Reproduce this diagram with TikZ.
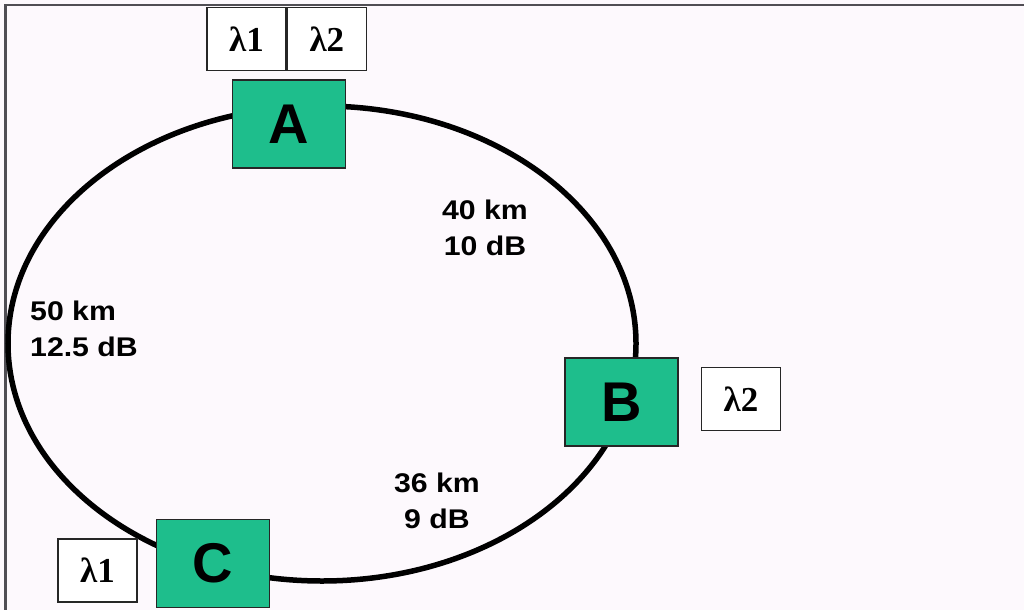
\documentclass[tikz,border=0pt]{standalone}
\usepackage{fontspec}
\setmainfont{Liberation Sans}
\newfontfamily\lamfont{Liberation Serif}
\usepackage{graphicx}
\definecolor{bgcol}{RGB}{253,249,253}
\definecolor{nodegreen}{RGB}{30,190,140}
\definecolor{framecol}{RGB}{80,78,84}
\newcommand\wlbl[1]{\scalebox{1.12}[1]{#1}}
\tikzset{
  site/.style={draw=black!85, line width=1.6pt, fill=nodegreen, minimum width=113pt, minimum height=88pt, inner sep=0pt, font=\fontsize{56}{60}\selectfont\bfseries},
  wave/.style={draw=black!85, line width=1.4pt, fill=white, minimum width=79pt, minimum height=63pt, inner sep=0pt, font=\fontsize{35}{40}\selectfont\lamfont\bfseries},
  dist/.style={inner sep=0pt, font=\fontsize{27}{36}\selectfont\bfseries},
  ring/.style={line width=5.5pt, black}
}
\begin{document}
\begin{tikzpicture}[x=1pt,y=-1pt]
\useasboundingbox (0,0) rectangle (1024,610);
\fill[bgcol] (0,0) rectangle (1024,610);
\draw[framecol, line width=2.5pt] (1024,5) -- (5.5,5) -- (5.5,610);
% ring
\draw[ring] (322,343.5) ellipse [x radius=314, y radius=237.5];
% sites
\node[site] (A) at (289,124) {A};
\node[site] (B) at (621.5,402) {B};
\node[site] (C) at (213,563.5) {C};
% wavelengths
\node[wave] (A1) at (246.5,39) {λ1};
\node[wave, anchor=west] (A2) at (A1.east) {λ2};
\node[wave] (B2) at (741,399) {λ2};
\node[wave] (C1) at (97.5,570.5) {λ1};
% distances
\node[dist, align=center] (dAB) at (485,227.4) {\wlbl{40 km}\\\wlbl{10 dB}};
\node[dist, align=left, anchor=west] (dAC) at (30,328.4) {\wlbl{50 km}\\\wlbl{12.5 dB}};
\node[dist, align=center] (dBC) at (437,500.9) {\wlbl{36 km}\\\wlbl{9 dB}};
\end{tikzpicture}
\end{document}
